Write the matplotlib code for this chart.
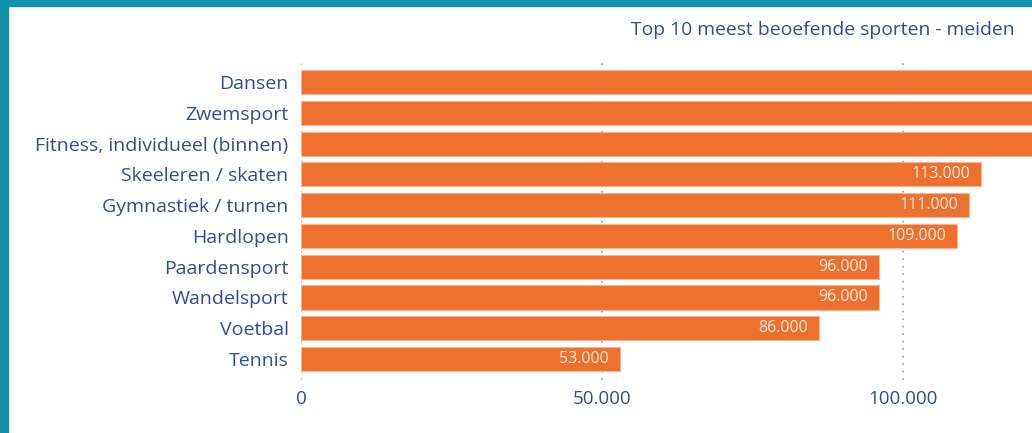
import matplotlib.pyplot as plt
from matplotlib.patches import Rectangle
from matplotlib.ticker import FuncFormatter

plt.rcParams['font.family'] = ['Open Sans', 'DejaVu Sans']

# data (top 3 bars run past the right edge in the source, values estimated)
sports = ['Dansen', 'Zwemsport', 'Fitness, individueel (binnen)',
          'Skeeleren / skaten', 'Gymnastiek / turnen', 'Hardlopen',
          'Paardensport', 'Wandelsport', 'Voetbal', 'Tennis']
counts = [170000, 150000, 135000, 113000, 111000, 109000, 96000, 96000, 86000, 53000]
xticks = [0, 50000, 100000]

ORANGE = '#EE702E'
BLUE = '#2F4B9B'
TEAL = '#1391AB'


def fmt(v, pos=None):
    return f'{int(v):,}'.replace(',', '.')


fig = plt.figure(figsize=(10.32, 4.33), dpi=100)
ax = fig.add_axes([301 / 1032, 1 - 380 / 433, 1 - 301 / 1032, (380 - 58) / 433])

y = list(range(len(sports)))
bars = ax.barh(y, counts, height=0.78, color=ORANGE, edgecolor='#F6B48F',
               linewidth=0.8, zorder=3)

xmax = 731 / 0.00602
for b, v in zip(bars, counts):
    if v < xmax:
        ax.annotate(fmt(v), (v, b.get_y() + b.get_height() / 2),
                    xytext=(-8, 0), textcoords='offset points',
                    ha='right', va='center', color='#FDEBDD', fontsize=11.5,
                    zorder=4)

ax.set_xlim(0, xmax)
ax.set_ylim(9.68, -0.78)
ax.set_yticks(y)
ax.set_yticklabels(sports, fontsize=14, color=BLUE)
ax.set_xticks(xticks)
ax.xaxis.set_major_formatter(FuncFormatter(fmt))
ax.tick_params(axis='x', length=0, labelsize=13.5, labelcolor=BLUE, pad=7)
ax.tick_params(axis='y', length=0, pad=9)
ax.grid(axis='x', color='#8E9CC9', linestyle=(0, (1, 3.5)), linewidth=1.2, zorder=1)
ax.set_axisbelow(True)
for s in ax.spines.values():
    s.set_visible(False)

fig.text(1015 / 1032, 1 - 30 / 433, 'Top 10 meest beoefende sporten - meiden',
         ha='right', va='center', fontsize=13.9, color=BLUE)

# teal frame on top and left
fig.patches.append(Rectangle((0, 1 - 6 / 433), 1, 6 / 433, transform=fig.transFigure,
                             color=TEAL, zorder=10))
fig.patches.append(Rectangle((0, 0), 8 / 1032, 1, transform=fig.transFigure,
                             color=TEAL, zorder=10))

fig.savefig('out.png', dpi=100)
